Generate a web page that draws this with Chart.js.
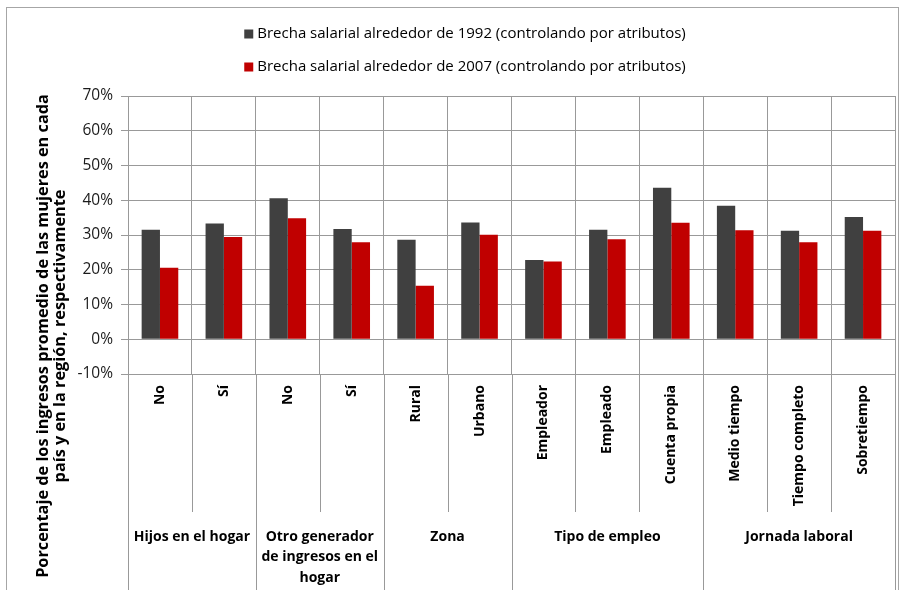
<!DOCTYPE html>
<html>
<head>
<meta charset="utf-8">
<script src="https://cdn.jsdelivr.net/npm/chart.js@4.4.1/dist/chart.umd.min.js"></script>
<style>
html, body { margin: 0; padding: 0; background: #fff; overflow: hidden; }
#frame { position: absolute; left: 6px; top: 7px; width: 891px; height: 600px; border: 1px solid #a6a6a6; }
#wrap { position: absolute; left: 0; top: 0; width: 902px; height: 590px; }
</style>
</head>
<body>
<div id="frame"></div>
<div id="wrap"><canvas id="c"></canvas></div>
<script>
// categories and groups (multi-level axis)
var categories = ["No", "Sí", "No", "Sí", "Rural", "Urbano", "Empleador", "Empleado",
                  "Cuenta propia", "Medio tiempo", "Tiempo completo", "Sobretiempo"];
var groupNames = [["Hijos en el hogar"], ["Otro generador", "de ingresos en el", "hogar"],
                  ["Zona"], ["Tipo de empleo"], ["Jornada laboral"]];
var groupSizes = [2, 2, 2, 3, 3];

var seriesNames = ["Brecha salarial alrededor de 1992 (controlando por atributos)",
                   "Brecha salarial alrededor de 2007 (controlando por atributos)"];
var brecha1992 = [31.5, 33.3, 40.6, 31.7, 28.6, 33.6, 22.8, 31.5, 43.6, 38.4, 31.2, 35.2];
var brecha2007 = [20.6, 29.4, 34.8, 27.9, 15.4, 30.1, 22.4, 28.8, 33.5, 31.4, 27.9, 31.2];

var yMin = -10, yMax = 70, yStep = 10;
var yTitle = ["Porcentaje de los ingresos promedio de las mujeres en cada",
              "país y en la región, respectivamente"];

var colors = ["#404040", "#c00000"];
var gridColor = "#999999";
var font = "'Open Sans', 'DejaVu Sans', sans-serif";

var extras = {
    id: 'extras',
    afterDraw: function(chart) {
        var ctx = chart.ctx;
        var xs = chart.scales.x;
        var area = chart.chartArea;
        ctx.save();

        // legend, stacked
        ctx.font = "15px " + font;
        ctx.textBaseline = "middle";
        ctx.textAlign = "left";
        var legY = [34, 67];
        for (var i = 0; i < seriesNames.length; i++) {
            var w = ctx.measureText(seriesNames[i]).width;
            var x0 = 465 - (w + 13) / 2;
            ctx.fillStyle = colors[i];
            ctx.fillRect(x0, legY[i] - 4.5, 9, 9);
            ctx.fillStyle = "#000";
            ctx.fillText(seriesNames[i], x0 + 13, legY[i]);
        }

        // y title
        ctx.font = "bold 16.3px " + font;
        ctx.textAlign = "center";
        for (var j = 0; j < yTitle.length; j++) {
            ctx.save();
            ctx.translate(43 + j * 17, 336);
            ctx.rotate(-Math.PI / 2);
            ctx.fillText(yTitle[j], 0, 0);
            ctx.restore();
        }

        // separators below axis
        ctx.strokeStyle = gridColor;
        ctx.lineWidth = 1;
        var groupEdges = [0];
        var acc = 0;
        groupSizes.forEach(function(s) { acc += s; groupEdges.push(acc); });
        for (var k = 0; k <= categories.length; k++) {
            var px = Math.round(xs.getPixelForValue(k - 0.5)) + 0.5;
            var bottom = groupEdges.indexOf(k) >= 0 ? 590 : 512;
            ctx.beginPath();
            ctx.moveTo(px, area.bottom);
            ctx.lineTo(px, bottom);
            ctx.stroke();
        }

        // group labels
        ctx.fillStyle = "#000";
        ctx.font = "bold 14px " + font;
        for (var g = 0; g < groupNames.length; g++) {
            var a = xs.getPixelForValue(groupEdges[g] - 0.5);
            var b = xs.getPixelForValue(groupEdges[g + 1] - 0.5);
            for (var l = 0; l < groupNames[g].length; l++) {
                ctx.fillText(groupNames[g][l], (a + b) / 2, 537 + l * 20.5);
            }
        }
        ctx.restore();
    }
};

new Chart(document.getElementById("c"), {
    type: 'bar',
    data: {
        labels: categories,
        datasets: [
            { label: seriesNames[0], data: brecha1992, backgroundColor: colors[0] },
            { label: seriesNames[1], data: brecha2007, backgroundColor: colors[1] }
        ]
    },
    options: {
        responsive: true,
        maintainAspectRatio: false,
        animation: false,
        categoryPercentage: 0.573,
        barPercentage: 1,
        layout: { padding: { top: 96, right: 7, left: 0, bottom: 0 } },
        plugins: {
            legend: { display: false },
            title: { display: false },
            tooltip: { enabled: false }
        },
        scales: {
            x: {
                grid: { color: gridColor, drawTicks: false, offset: true },
                border: { color: gridColor },
                ticks: {
                    autoSkip: false, minRotation: 90, maxRotation: 90, padding: 11,
                    color: "#000", font: { family: font, size: 14, weight: 'bold' }
                },
                afterFit: function(s) { s.height = 216; }
            },
            y: {
                min: yMin, max: yMax,
                grid: { color: gridColor, tickLength: 7 },
                border: { color: gridColor },
                ticks: {
                    stepSize: yStep, padding: 8, color: "#1a1a1a",
                    font: { family: font, size: 15.5 },
                    callback: function(v) { return v + "%"; }
                },
                afterFit: function(s) { s.width = 128; }
            }
        }
    },
    plugins: [extras]
});
</script>
</body>
</html>
